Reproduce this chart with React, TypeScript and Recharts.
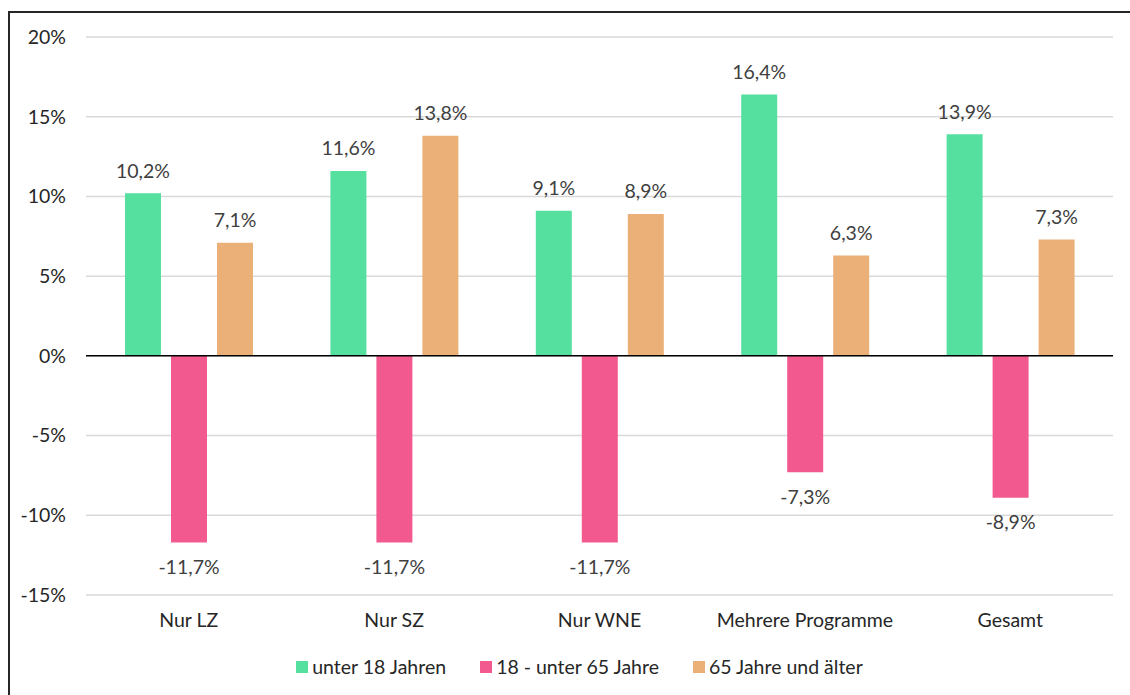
import React from 'react';
import { BarChart, Bar, XAxis, YAxis, CartesianGrid, Legend, ReferenceLine, LabelList } from 'recharts';

const categories = ['Nur LZ', 'Nur SZ', 'Nur WNE', 'Mehrere Programme', 'Gesamt'];
const under18 = [10.2, 11.6, 9.1, 16.4, 13.9];
const age18to65 = [-11.7, -11.7, -11.7, -7.3, -8.9];
const over65 = [7.1, 13.8, 8.9, 6.3, 7.3];
const yTicks = [-15, -10, -5, 0, 5, 10, 15, 20];

const SERIES = [
  { key: 'u18', name: 'unter 18 Jahren', color: '#55E0A0' },
  { key: 'mid', name: '18 - unter 65 Jahre', color: '#F25A8F' },
  { key: 'o65', name: '65 Jahre und älter', color: '#EBB077' },
];

const data = categories.map((c, i) => ({ cat: c, u18: under18[i], mid: age18to65[i], o65: over65[i] }));

const FONT = 'Lato, "Open Sans", sans-serif';
const FS = 19.5;
const fmt = (v: number) => `${v.toFixed(1).replace('.', ',')}%`;

const ValueLabel = (props: any) => {
  const { x, y, width, height, value } = props;
  const v = Number(value);
  const cx = x + width / 2;
  const ty = v < 0 ? Math.max(y, y + height) + 24 : Math.min(y, y + height) - 23;
  return (
    <text x={cx} y={ty} textAnchor="middle" dominantBaseline="central" fill="#404040" fontSize={FS} fontFamily={FONT}>
      {fmt(v)}
    </text>
  );
};

const renderLegend = () => (
  <div style={{ display: 'flex', justifyContent: 'center', gap: 34, fontFamily: FONT, fontSize: FS, color: '#262626', paddingLeft: 46, lineHeight: '24px' }}>
    {SERIES.map((s) => (
      <div key={s.key} style={{ display: 'flex', alignItems: 'center' }}>
        <span style={{ display: 'inline-block', width: 12, height: 12, background: s.color, marginRight: 4 }} />
        <span>{s.name}</span>
      </div>
    ))}
  </div>
);

export default function App() {
  return (
    <div style={{ position: 'absolute', left: 0, top: 0, width: 1130, height: 695, background: '#fff', overflow: 'hidden' }}>
      <div style={{ position: 'absolute', left: 8, top: 11, width: 1122, height: 684, borderLeft: '2px solid #262626', borderTop: '2px solid #262626', boxSizing: 'border-box' }} />
      <div style={{ position: 'absolute', left: 0, top: 0 }}>
        <BarChart width={1130} height={695} data={data} margin={{ top: 37, right: 17, bottom: 46, left: 0 }} barSize={36} barGap={10}>
          <CartesianGrid vertical={false} stroke="#D9D9D9" strokeWidth={1.5} />
          <XAxis dataKey="cat" axisLine={false} tickLine={false} tick={{ fill: '#262626', fontSize: FS, fontFamily: FONT }} tickMargin={12} />
          <YAxis domain={[-15, 20]} ticks={yTicks} width={86} axisLine={false} tickLine={false} tickMargin={14} tickFormatter={(v: number) => `${v}%`} tick={{ fill: '#262626', fontSize: FS, fontFamily: FONT }} />
          <ReferenceLine y={0} stroke="#000" strokeWidth={1.5} />
          {SERIES.map((s) => (
            <Bar key={s.key} dataKey={s.key} name={s.name} fill={s.color} isAnimationActive={false}>
              <LabelList dataKey={s.key} content={ValueLabel} />
            </Bar>
          ))}
          <Legend verticalAlign="bottom" content={renderLegend} wrapperStyle={{ bottom: 16 }} />
        </BarChart>
      </div>
    </div>
  );
}
